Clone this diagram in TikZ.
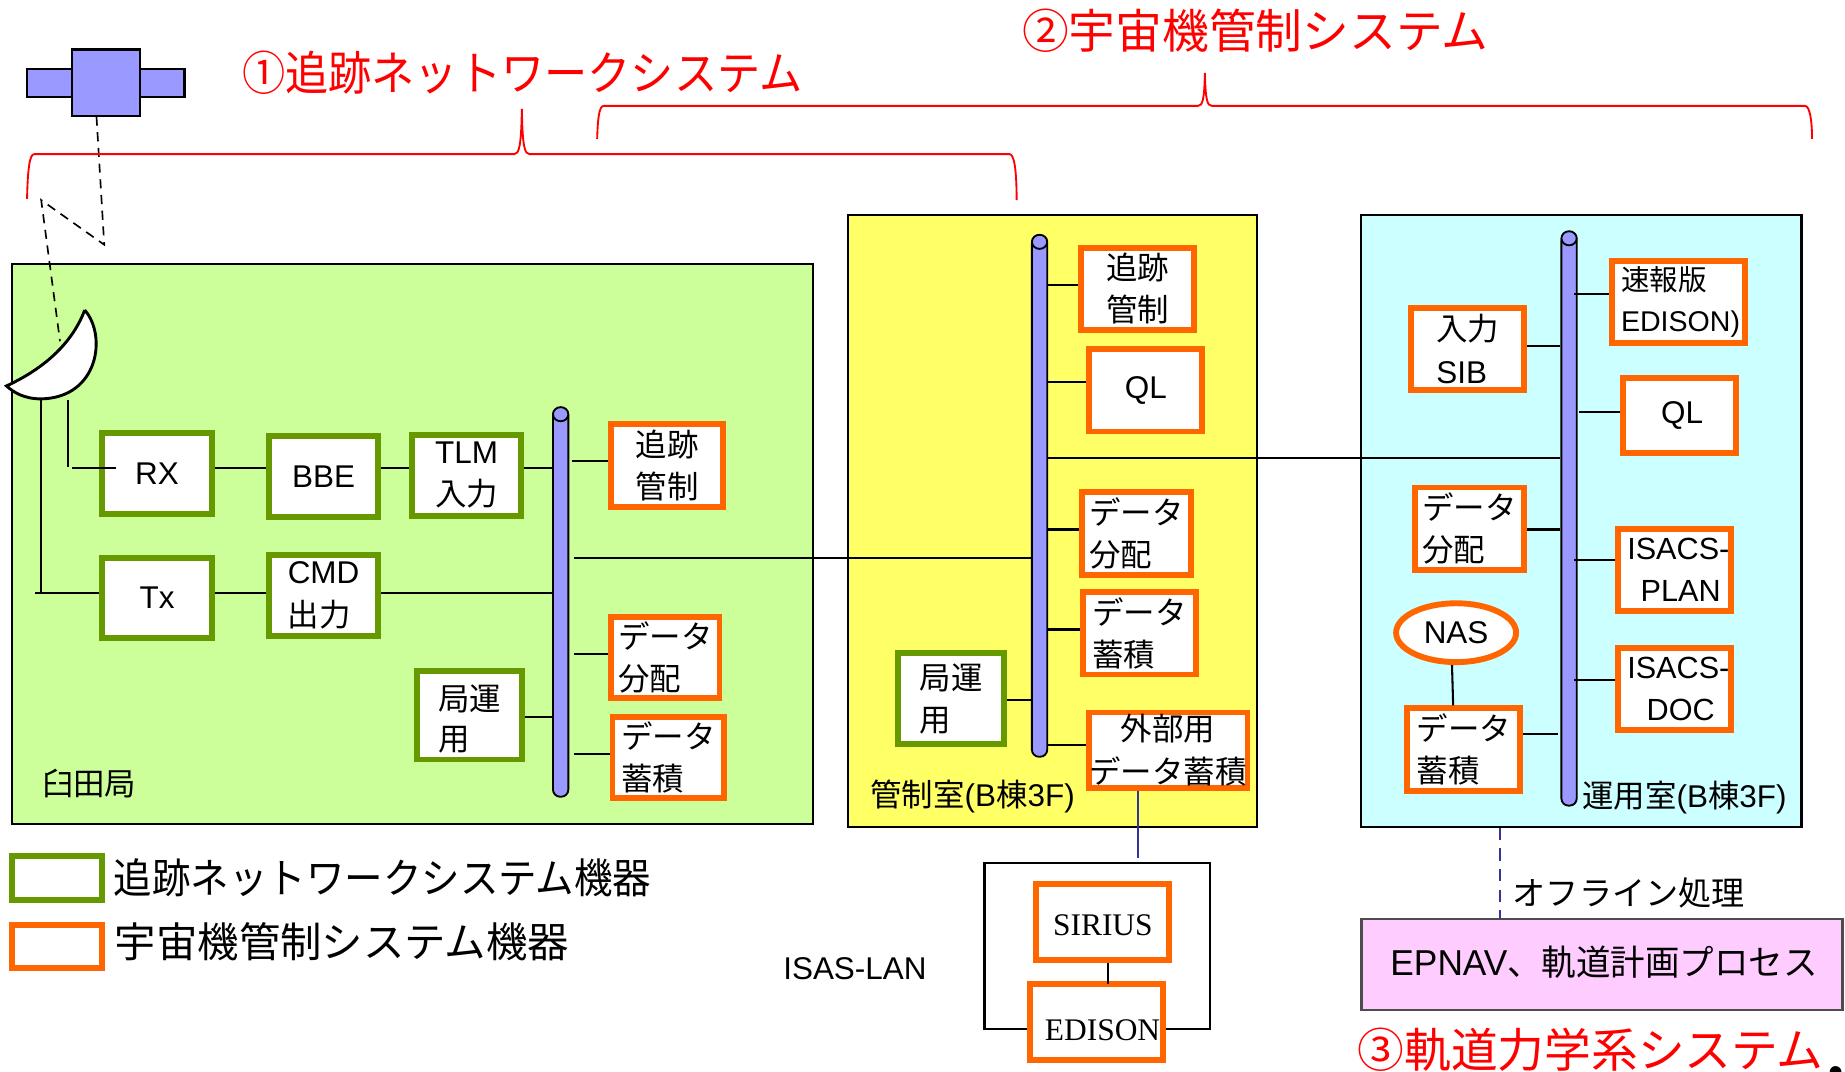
\documentclass[tikz,border=0pt]{standalone}
\usepackage{fontspec}
\setmainfont{Liberation Sans}
\newfontfamily\cjkfont{Noto Sans CJK JP}
\newfontfamily\romanfont{Liberation Serif}
\newcommand{\jp}[1]{{\cjkfont #1}}
\newcommand{\lowered}[2]{\raisebox{-#1}[\height][\depth]{#2}}
\usetikzlibrary{positioning, shapes.geometric}

\definecolor{netgreen}{HTML}{669900}
\definecolor{ctrlorange}{HTML}{FF6600}
\definecolor{busblue}{HTML}{9999FF}
\definecolor{lanblue}{HTML}{333399}
\definecolor{usudagreen}{HTML}{CCFF99}
\definecolor{ctrlyellow}{HTML}{FFFF66}
\definecolor{opscyan}{HTML}{CCFFFF}
\definecolor{procpink}{HTML}{FFCCFF}

\tikzset{
  boxdim/.style 2 args={minimum width=#1*0.01cm, minimum height=#2*0.01cm},
  body/.style={font=\fontsize{7.6}{10.2}\selectfont, align=left, inner sep=0pt},
  netbox/.style={body, draw=netgreen, fill=white, line width=1.42pt},
  ctrlbox/.style={body, draw=ctrlorange, fill=white, line width=1.42pt},
  room/.style={draw=black, line width=0.5pt, inner sep=0pt},
  busbar/.style={draw=black, fill=busblue, line width=0.45pt, rounded corners=0.06cm,
    minimum width=0.13cm, inner sep=0pt},
  buscap/.style={ellipse, draw=black, fill=busblue, line width=0.45pt,
    minimum width=0.13cm, minimum height=0.12cm, inner sep=0pt},
  wire/.style={line width=0.5pt},
  radio/.style={dashed, line width=0.4pt, dash pattern=on 2.2pt off 1.6pt},
  brace/.style={red, line width=0.45pt},
  title/.style={red, font=\fontsize{11.3}{13}\selectfont, inner sep=0pt, anchor=west},
  caption/.style={font=\fontsize{7.6}{10}\selectfont, inner sep=0pt, anchor=west},
  legend/.style={font=\fontsize{10}{12}\selectfont, inner sep=0pt, anchor=west}
}

\begin{document}
\begin{tikzpicture}[x=0.01cm, y=-0.01cm]
  \useasboundingbox (0,0) rectangle (1568,911);

  % Rooms
  \node[room, fill=usudagreen, boxdim={681}{476}] (usuda) at (350.5,462) {};
  \node[room, fill=ctrlyellow, boxdim={347}{520}] (ctrlroom) at (894.5,442.5) {};
  \node[room, fill=opscyan, boxdim={374}{520}] (opsroom) at (1344,442.5) {};

  % Spacecraft
  \node[draw, fill=busblue, line width=0.6pt, boxdim={38}{19}] (panelL) at (42,70.5) {};
  \node[draw, fill=busblue, line width=0.6pt, boxdim={38}{19}] (panelR) at (138,70.5) {};
  \node[draw, fill=busblue, line width=0.6pt, boxdim={58}{56.5}] (sat) at (90,70.3) {};

  % Antenna
  \draw[fill=white, line width=0.7pt] (72,263.5)
    .. controls (91,285) and (84,338) .. (35,339)
    coordinate (dishfoot)
    .. controls (20,339) and (11,333) .. (5.5,328)
    .. controls (40,312) and (62,290) .. (72,263.5);
  \coordinate (dishfeed) at (51,290);
  \coordinate (bounceA) at (88.6,208);
  \coordinate (bounceB) at (35,170);
  \draw[radio] (82,99) -- (bounceA) -- (bounceB) -- (dishfeed);

  % Braces
  \draw[brace] (23,169) .. controls (23.5,145) and (25,131) .. (29,131) -- (437,131)
    .. controls (441,131) and (443,125) .. (443.5,92.5)
    .. controls (444,125) and (446,131) .. (450,131) -- (858,131)
    .. controls (862,131) and (864,145) .. (864,170);
  \draw[brace] (507.5,118) .. controls (508,102) and (509,90) .. (513,90) -- (1018,90)
    .. controls (1022,90) and (1023.5,85) .. (1024,62)
    .. controls (1024.5,85) and (1026,90) .. (1030,90) -- (1534,90)
    .. controls (1538,90) and (1540,102) .. (1540,118);

  % Usuda station
  \node[netbox, boxdim={93}{69}] (rx) at (133.5,402.5) {RX};
  \node[netbox, boxdim={93}{69}] (bbe) at (275,405) {BBE};
  \node[netbox, boxdim={93}{69}] (tlm) at (396.5,404) {TLM\\\jp{入力}};
  \node[netbox, boxdim={93}{68}] (tx) [below = 0.32cm of rx] {Tx};
  \node[netbox, boxdim={93}{69}] (cmd) at (275,506) {CMD\\\jp{出力}};
  \node[netbox, boxdim={89}{75}] (kyokuA) at (399,608) {\lowered{0.04cm}{\jp{局運}}\\\lowered{0.02cm}{\jp{用}}};
  \node[ctrlbox, boxdim={95}{70}] (trackA) at (567,395.5) {\jp{追跡}\\\jp{管制}};
  \node[ctrlbox, boxdim={92}{69}] (distA) at (565.5,559) {\jp{データ}\\\jp{分配}};
  \node[ctrlbox, boxdim={95}{69}] (storeA) at (568,644) {\jp{データ}\\\jp{蓄積}};
  \node[busbar, minimum height=3.3cm] (busA) at (476.5,512) {};
  \node[buscap] (capA) at (476.5,352) {};
  \node[caption] (usudaname) at (35,666) {\jp{臼田局}};

  % Control room
  \node[ctrlbox, boxdim={96}{70}] (trackB) at (966.75,245.5) {\jp{追跡}\\\jp{管制}};
  \node[ctrlbox, boxdim={96}{70}] (qlB) at (973.8,331.75) {QL};
  \node[ctrlbox, boxdim={93}{70}] (distB) at (965.75,453.3) {\jp{データ}\\\jp{分配}};
  \node[ctrlbox, boxdim={96}{70}] (storeB) at (968.5,538.25) {\jp{データ}\\\jp{蓄積}};
  \node[netbox, boxdim={90}{77}] (kyokuB) at (808.25,593.8) {\jp{局運}\\\jp{用}};
  \node[ctrlbox, boxdim={135}{64}, align=center] (extB) at (992.75,637.5) {\jp{外部用}\\\jp{データ蓄積}};
  \node[busbar, minimum height=4.42cm] (busB) at (883.5,422) {};
  \node[buscap] (capB) at (883.5,205.5) {};
  \node[caption] (ctrlname) at (739,677) {\jp{管制室}(B\jp{棟}3F)};

  % Operations room
  \node[ctrlbox, boxdim={113}{70}, font=\fontsize{6.9}{9.9}\selectfont] (fastC) at (1426.25,256.5) {\hspace*{0.04cm}\jp{速報版}\\\hspace*{0.04cm}EDISON)};
  \node[ctrlbox, boxdim={96}{70}] (sibC) at (1247.5,296.5) {\jp{入力}\\SIB};
  \node[ctrlbox, boxdim={96}{64}] (qlC) at (1427,353) {\hspace*{0.05cm}QL};
  \node[ctrlbox, boxdim={93}{70}] (distC) at (1249,449.25) {\jp{データ}\\\jp{分配}};
  \node[ctrlbox, boxdim={96}{70}, align=center, font=\fontsize{7.4}{10}\selectfont] (planC) at (1423.35,484.4) {\hspace*{0.06cm}ISACS-\\\hspace*{0.1cm}PLAN};
  \node[ctrlbox, boxdim={96}{70}, align=center, font=\fontsize{7.4}{10}\selectfont] (docC) [below = 0.26cm of planC] {\hspace*{0.06cm}ISACS-\\\hspace*{0.1cm}DOC};
  \node[ctrlbox, ellipse, boxdim={102}{50}] (nasC) at (1237.5,537.7) {NAS};
  \node[ctrlbox, boxdim={96}{70}] (storeC) at (1244,637) {\jp{データ}\\\jp{蓄積}};
  \node[busbar, minimum height=4.86cm] (busC) at (1333.5,441.5) {};
  \node[buscap] (capC) at (1333.5,202.5) {};
  \node[caption] (opsname) at (1344,678) {\jp{運用室}(B\jp{棟}3F)};

  % ISAS-LAN
  \node[draw, line width=0.6pt, boxdim={192}{141}] (lan) at (932.5,804) {};
  \node[ctrlbox, boxdim={113}{64}, font=\romanfont\fontsize{7.6}{10}\selectfont] (sirius) at (937.3,783.5) {\lowered{0.03cm}{SIRIUS}};
  \node[ctrlbox, boxdim={113}{64}, font=\romanfont\fontsize{7.6}{10}\selectfont] (edison) at (932,868.5) {\hspace*{0.1cm}\lowered{0.07cm}{EDISON}};
  \node[caption] (lanname) at (665,823) {ISAS-LAN};
  \draw[wire] (sirius.south -| 942,0) -- (942,836) coordinate (edisontop);

  % Orbit dynamics
  \node[draw=black!70, fill=procpink, line width=0.6pt, boxdim={409}{77}, inner sep=0pt] (orbit) at (1361.5,819.7) {};
  \node[inner sep=0pt, anchor=west] (orbitname) at (1181,818) {\scalebox{0.98}[1]{\fontsize{8.7}{11}\selectfont EPNAV\fontsize{8.5}{11}\selectfont\jp{、軌道計画プロセス}}};
  \node[caption, font=\fontsize{8}{10}\selectfont] (offline) at (1285,759) {\jp{オフライン処理}};
  \draw[lanblue, line width=0.45pt] (967,672) -- (967,729.5);
  \draw[lanblue, line width=0.4pt, dash pattern=on 3pt off 2pt] (opsroom.south -| 1275,0) -- (orbit.north -| 1275,0);

  % Titles
  \node[title] (titleA) at (205,62) {\scalebox{0.924}[1]{\jp{①追跡ネットワークシステム}}};
  \node[title] (titleB) at (868,26) {\jp{②宇宙機管制システム}};
  \node[title] (titleC) at (1153,892) {\jp{③軌道力学系システム}};

  % Legend
  \node[netbox, boxdim={76}{37}] (keyA) at (48.5,746) {};
  \node[ctrlbox, boxdim={76}{37}] (keyB) at (48.5,804.5) {};
  \node[legend] (keyAname) at (96,746) {\scalebox{0.93}[1]{\jp{追跡ネットワークシステム機器}}};
  \node[legend] (keyBname) at (97,800) {\jp{宇宙機管制システム機器}};

  % Connect nodes
  \draw[wire] (dishfoot) -- (35,504);
  \draw[wire] (57.5,340) -- (57.5,397);
  \draw[wire] (61,398) -- (99,398);
  \draw[wire] (rx.east |- 0,398) -- (bbe.west |- 0,398);
  \draw[wire] (bbe.east |- 0,398) -- (tlm.west |- 0,398);
  \draw[wire] (tlm.east |- 0,398) -- (busA.west |- 0,398);
  \draw[wire] (busA.east |- 0,392) ++(2,0) -- (trackA.west |- 0,392);
  \draw[wire] (30,504) -- (tx.west |- 0,504);
  \draw[wire] (tx.east |- 0,504) -- (cmd.west |- 0,504);
  \draw[wire] (cmd.east |- 0,504) -- (busA.west |- 0,504);
  \draw[wire] (kyokuA.east |- 0,609) -- (busA.west |- 0,609);
  \draw[wire] (busA.east |- 0,556) ++(4,0) -- (distA.west |- 0,556);
  \draw[wire] (busA.east |- 0,641) ++(4,0) -- (storeA.west |- 0,641);
  \draw[wire] (busA.east |- 0,474) ++(4,0) -- (busB.west |- 0,474);

  \draw[wire] (busB.east |- 0,242) -- (trackB.west |- 0,242);
  \draw[wire] (busB.east |- 0,324.4) -- (qlB.west |- 0,324.4);
  \draw[wire] (busB.east |- 0,450) -- (distB.west |- 0,450);
  \draw[wire] (busB.east |- 0,535) -- (storeB.west |- 0,535);
  \draw[wire] (kyokuB.east |- 0,595) -- (busB.west |- 0,595);
  \draw[wire] (busB.east |- 0,633) -- (extB.west |- 0,633);
  \draw[wire] (busB.east |- 0,389) -- (busC.west |- 0,389);

  \draw[wire] (1338,250) -- (fastC.west |- 0,250);
  \draw[wire] (sibC.east |- 0,294) -- (busC.west |- 0,294);
  \draw[wire] (1342,350.5) -- (qlC.west |- 0,350.5);
  \draw[wire] (distC.east |- 0,450) -- (busC.west |- 0,450);
  \draw[wire] (1337.5,475.6) -- (planC.west |- 0,475.6);
  \draw[wire] (1337.5,577.6) -- (docC.west |- 0,577.6);
  \draw[wire] (storeC.east |- 0,624) -- (1324,624);
  \draw[wire] (nasC.south -| 1234,0) -- (storeC.north -| 1235,0);

  % Stray mark at the page corner
  \fill[black] (1560,911) circle [radius=5] coordinate (cornermark);
\end{tikzpicture}
\end{document}
